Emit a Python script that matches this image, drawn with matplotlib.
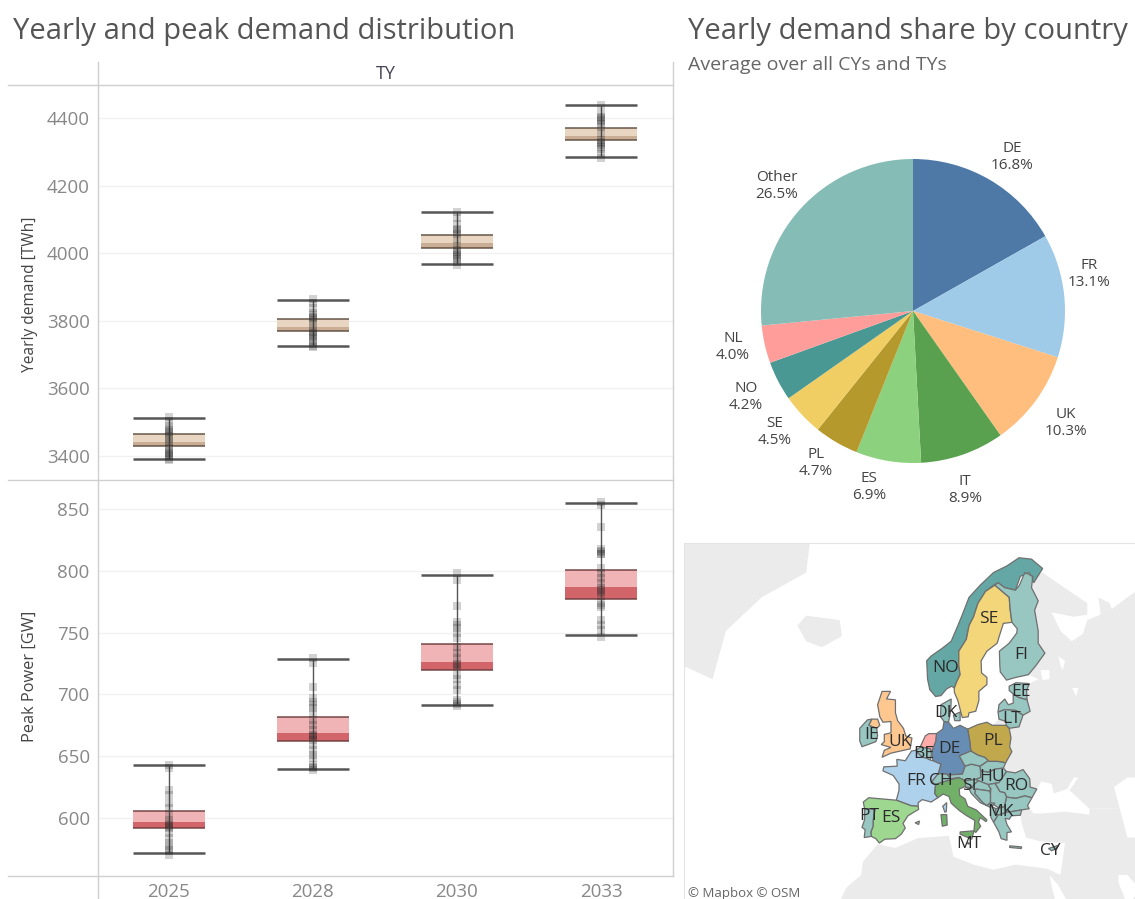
# yearly and peak demand dashboard

import numpy as np
import matplotlib
matplotlib.use('Agg')
import matplotlib.pyplot as plt
from matplotlib.lines import Line2D
from matplotlib.patches import Polygon

W = 1135
H = 899

plt.rcParams['font.family'] = ['Open Sans', 'DejaVu Sans']

years = ['2025', '2028', '2030', '2033']

# whisker low, q1, median, q3, whisker high
yearly_low = [3390, 3725, 3968, 4285]
yearly_q1 = [3430, 3770, 4015, 4335]
yearly_med = [3440, 3782, 4030, 4347]
yearly_q3 = [3465, 3805, 4054, 4370]
yearly_high = [3512, 3863, 4122, 4438]

yearly_points = [
    [3516, 3503, 3490, 3480, 3476, 3472, 3466, 3460, 3450, 3442, 3436, 3425, 3416, 3412, 3408, 3403, 3400, 3392, 3388],
    [3866, 3852, 3837, 3822, 3816, 3812, 3808, 3802, 3792, 3778, 3768, 3764, 3758, 3754, 3748, 3740, 3733, 3727, 3722],
    [4123, 4103, 4088, 4073, 4068, 4063, 4058, 4043, 4023, 4009, 4004, 3999, 3995, 3990, 3984, 3975, 3965],
    [4439, 4414, 4404, 4400, 4395, 4390, 4382, 4375, 4355, 4335, 4330, 4325, 4320, 4315, 4310, 4295, 4283],
]

peak_low = [572, 640, 691, 748]
peak_q1 = [592, 662, 720, 777]
peak_med = [597, 669, 726, 787]
peak_q3 = [606, 682, 741, 801]
peak_high = [643, 729, 797, 855]

peak_points = [
    [642.8, 640.2, 622.7, 618.7, 612, 607.9, 602.5, 598.5, 596, 594.4, 593, 591.7, 587.7, 583.6, 579.6, 576.9, 574.2, 573, 570.2],
    [729.2, 725.2, 706.2, 696.8, 694, 691.4, 688.7, 685.2, 679.3, 675.2, 671.2, 667.2, 666, 665.3, 663, 659.1, 655, 651, 648.3, 642.9, 641.5, 640.5, 638.8],
    [798, 792.6, 771.6, 758.9, 756.2, 753.5, 749.5, 745.5, 738.7, 733.3, 729.2, 724.7, 723.5, 722.5, 715.8, 712.3, 707.7, 703.6, 695.5, 693.7, 692, 690.7],
    [855.9, 853.2, 835.7, 817.4, 816, 815.5, 814, 813.6, 802, 798, 793.9, 789.9, 785.9, 784.5, 783.2, 779.7, 773.7, 772, 771, 760.3, 756.2, 752.1, 746.7],
]

pie_names = ['DE', 'FR', 'UK', 'IT', 'ES', 'PL', 'SE', 'NO', 'NL', 'Other']
pie_shares = [16.8, 13.1, 10.3, 8.9, 6.9, 4.7, 4.5, 4.2, 4.0, 26.5]
pie_colors = ['#4e79a7', '#a0cbe8', '#ffbe7d', '#59a14f', '#8cd17d',
              '#b6992d', '#f1ce63', '#499894', '#ff9d9a', '#86bcb6']

# rough country outlines as lon, lat
norway = [(5, 62), (5.2, 60), (5.7, 58.8), (7, 58), (8.2, 58.1), (9.5, 58.9), (10.6, 59.2), (11.2, 59), (11.8, 59.8),
          (12.5, 60.5), (12.2, 61.5), (12.2, 63), (13.9, 64.2), (14.5, 65.5), (15.5, 66.3), (16.5, 67.5), (18.2, 68.5),
          (20, 69), (21, 69.2), (22.5, 68.8), (24.9, 68.6), (26, 69.7), (28, 70), (29, 69.2), (31, 70.3), (28.5, 71),
          (25.7, 71.1), (23, 70.5), (20, 70), (17, 69), (14.5, 68), (13, 66.5), (12, 65.5), (10.5, 64), (8.5, 63.3), (6, 62.5)]
sweden = [(11.2, 59), (11.2, 58.5), (12, 57.5), (12.7, 56), (13, 55.4), (14.3, 55.5), (14.5, 56), (16, 56.2), (16.7, 57.5),
          (16.7, 58.6), (18.5, 59.4), (18.5, 60.2), (17.3, 60.7), (17.2, 62), (18.5, 63), (20.8, 63.8), (21.5, 64.8),
          (22.2, 65.7), (24.1, 65.8), (23.7, 67), (23.5, 68), (20.3, 69), (18.2, 68.5), (16.5, 67.5), (15.5, 66.3),
          (14.5, 65.5), (13.9, 64.2), (12.2, 63), (12.2, 61.5), (12.5, 60.5), (11.8, 59.8)]
finland = [(24.1, 65.8), (25.3, 65.2), (25.2, 64.8), (23.5, 63.8), (21.3, 63), (21.4, 61.5), (21.5, 60.8), (22.9, 59.9),
           (25, 60.2), (27.8, 60.5), (29.5, 61.5), (31.5, 62.8), (30, 63.8), (30, 65), (29.2, 66.9), (30, 67.7), (28.5, 68.8),
           (28.8, 69.7), (27, 70), (25.8, 69), (24.9, 68.6), (22.5, 68.8), (21, 69.2), (20.3, 69), (23.5, 68), (23.7, 67)]
estonia = [(23.5, 59.2), (25, 59.6), (28, 59.5), (27.4, 58.7), (27.5, 57.6), (25.5, 57.9), (24.4, 58.3), (23.5, 58.7)]
latvia = [(21, 56.1), (21.2, 57), (22.5, 57.7), (23.3, 57), (24.4, 57.2), (24.4, 58.3), (25.5, 57.9), (27.5, 57.6),
          (28.2, 56.2), (26.6, 55.7), (25, 56.3), (22.5, 56.4)]
lithuania = [(21, 56.1), (22.5, 56.4), (25, 56.3), (26.6, 55.7), (25.7, 54.2), (23.5, 54), (22.8, 54.4), (22.8, 54.9), (21.2, 55.2)]
poland = [(14.2, 53.9), (16.5, 54.5), (18.5, 54.8), (19.7, 54.4), (22.8, 54.4), (23.5, 54), (23.9, 52.7), (23.6, 51.5),
          (24.1, 50.8), (22.7, 49.2), (20.9, 49.4), (19, 49.4), (18, 50), (16.5, 50.3), (14.9, 50.9), (14.7, 52.1)]
germany = [(8.6, 53.9), (8.9, 54.9), (9.9, 54.8), (11, 54), (12.5, 54.4), (14.2, 53.9), (14.7, 52.1), (14.9, 50.9),
           (12.3, 50.2), (13.6, 48.7), (13, 47.5), (10.2, 47.4), (7.6, 47.6), (8.2, 49), (6.4, 49.5), (6.1, 50.8), (7, 52.2), (7.2, 53.3)]
netherlands = [(3.5, 51.4), (4.7, 53), (5.5, 53.3), (7.2, 53.3), (7, 52.2), (6.1, 50.8), (5.8, 51.2), (4.3, 51.4)]
belgium = [(2.6, 51), (3.5, 51.4), (4.3, 51.4), (5.8, 51.2), (6.1, 50.5), (5.8, 49.6), (4.9, 49.9), (4, 50), (2.9, 50.7)]
france = [(1.6, 50.9), (2.6, 51), (2.9, 50.7), (4, 50), (4.9, 49.9), (5.8, 49.6), (6.4, 49.5), (8.2, 49), (7.6, 47.6),
          (6.1, 46.3), (7, 45.9), (6.8, 44.5), (7.5, 43.8), (6, 43.1), (4, 43.5), (3.1, 43), (3.1, 42.4), (1.5, 42.5),
          (-1.8, 43.4), (-1.2, 45), (-1.2, 46), (-2.5, 47.3), (-4.8, 48), (-4.6, 48.6), (-1.6, 48.7), (-1.7, 49.7), (0.2, 49.5)]
corsica = [(8.6, 42.4), (9.5, 43), (9.4, 41.5), (9.1, 41.4)]
spain = [(-9.2, 43.1), (-8, 43.8), (-1.8, 43.4), (1.5, 42.5), (3.1, 42.4), (3.2, 41.9), (0.8, 40.8), (-0.3, 39.5), (0.2, 38.7),
         (-0.7, 37.6), (-2, 36.8), (-4.4, 36.7), (-5.6, 36), (-6.4, 36.8), (-7.4, 37.2), (-7.5, 38), (-7, 39), (-7, 40),
         (-6.8, 41), (-6.6, 41.9), (-8.2, 42), (-8.9, 41.9)]
mallorca = [(2.4, 39.6), (3.4, 39.9), (3.2, 39.3)]
portugal = [(-8.9, 41.9), (-8.2, 42), (-6.6, 41.9), (-6.8, 41), (-7, 40), (-7, 39), (-7.5, 38), (-7.4, 37.2), (-9, 37),
            (-8.8, 38.4), (-9.5, 38.8), (-8.9, 40.2)]
britain = [(-5, 50), (-3, 50.6), (1.3, 51.2), (1.7, 52.7), (0.3, 53), (-0.2, 54), (-1.5, 55), (-2, 56), (-2, 57.6), (-4, 57.7),
           (-3.1, 58.6), (-5, 58.6), (-6, 57), (-5.5, 55.5), (-4.8, 54.8), (-3, 54.9), (-3, 53.4), (-4.5, 53.2), (-4.5, 52.2),
           (-5.2, 51.8), (-3, 51.4), (-4.5, 51)]
n_ireland = [(-8, 54.4), (-7.3, 55.2), (-6, 55.2), (-5.5, 54.4), (-6.2, 54)]
ireland = [(-10, 54), (-8.3, 55.1), (-7.3, 55.2), (-8, 54.4), (-6.2, 54), (-6, 53), (-6.4, 52.2), (-9.5, 51.5), (-10, 52.3)]
denmark = [(8.1, 55.5), (8.2, 57), (10.5, 57.7), (10.4, 56.3), (9.9, 54.8), (8.9, 54.9)]
zealand = [(11, 55.7), (12.5, 56.1), (12.5, 55), (11.3, 55)]
italy = [(7, 45.9), (8.5, 46.3), (10.2, 46.6), (12.2, 47), (13.7, 46.5), (13.7, 45.6), (12.3, 45.2), (12.4, 44.2), (13.6, 43.6),
         (14.2, 42.4), (16.1, 41.8), (18.5, 40.1), (18.3, 39.8), (17, 40.5), (16.6, 39.7), (17.1, 39), (16, 37.9), (15.6, 38.2),
         (15.8, 40), (14, 40.8), (12.3, 41.7), (10.5, 42.9), (10, 44), (8.7, 44.4), (7.5, 43.8), (6.8, 44.5)]
sicily = [(12.5, 38), (15.6, 38.2), (15.1, 36.7), (12.5, 37.6)]
sardinia = [(8.2, 41), (9.5, 41), (9.6, 39.2), (8.5, 39)]
swiss = [(6.1, 46.3), (7.6, 47.6), (9.6, 47.5), (10.4, 46.8), (10.2, 46.6), (8.5, 46.3), (7, 45.9)]
austria = [(9.6, 47.5), (10.2, 47.4), (13, 47.5), (13.6, 48.7), (15, 49), (17, 48.7), (17.1, 47), (16, 46.7), (13.7, 46.5),
           (12.2, 47), (10.4, 46.8)]
czech = [(12.3, 50.2), (14.9, 50.9), (16.5, 50.3), (18, 50), (18.8, 49.5), (17, 48.7), (15, 49), (13.6, 48.7)]
slovakia = [(17, 48.7), (18.8, 49.5), (19, 49.4), (20.9, 49.4), (22.7, 49.2), (22.2, 48.4), (20.5, 48.3), (18.8, 47.8), (17.1, 48)]
hungary = [(17.1, 48), (18.8, 47.8), (20.5, 48.3), (22.2, 48.4), (22.9, 47.9), (21.2, 46.2), (18.8, 45.9), (16.6, 46.5), (16, 46.7), (17.1, 47)]
romania = [(22.9, 47.9), (24.9, 47.7), (26.6, 48.2), (28.1, 46.8), (28.2, 45.5), (29.7, 45.2), (28.6, 43.8), (27, 44.1), (25, 43.7),
           (22.9, 43.9), (22.5, 44.6), (21.4, 44.8), (20.3, 46.1), (21.2, 46.2)]
bulgaria = [(22.9, 43.9), (25, 43.7), (27, 44.1), (28.6, 43.8), (27.6, 42.5), (28, 42), (26.3, 41.8), (24, 41.5), (22.9, 41.4), (22.4, 42.3)]
slovenia = [(13.7, 46.5), (16, 46.7), (16.6, 46.5), (15.6, 45.9), (15.2, 45.4), (13.7, 45.5)]
croatia = [(13.7, 45.5), (15.2, 45.4), (15.6, 45.9), (16.6, 46.5), (18.8, 45.9), (19.4, 45.2), (19, 44.9), (16, 45.2), (15.8, 44.5),
           (17.6, 43), (18.5, 42.5), (17, 43), (15, 44.5), (14.5, 45.2)]
serbia = [(18.8, 45.9), (20.3, 46.1), (21.4, 44.8), (22.5, 44.6), (22.9, 43.9), (22.4, 42.3), (21, 42.2), (19.3, 43), (19.3, 44.5), (19.4, 45.2)]
bosnia = [(16, 45.2), (19, 44.9), (19.3, 44.5), (19.3, 43), (18.5, 42.5), (17.6, 43), (15.8, 44.5)]
montenegro = [(18.5, 42.5), (19.3, 43), (20.3, 42.9), (19.3, 42.2)]
albania = [(19.3, 42.5), (20.5, 42), (20.5, 41.3), (21, 40.9), (20, 39.7), (19.4, 40.5)]
macedonia = [(20.5, 42), (22.4, 42.3), (22.9, 41.4), (21, 40.9), (20.5, 41.3)]
greece = [(21, 40.9), (22.9, 41.4), (24, 41.5), (26.3, 41.8), (26, 40.9), (24, 40.8), (23.5, 40.2), (22.6, 40.4), (23, 39.3), (24, 38),
          (23, 37.9), (23, 36.5), (21.7, 36.8), (21.2, 38), (20, 39.7)]
crete = [(23.6, 35.5), (26.3, 35.3), (26.2, 35), (23.6, 35.2)]
cyprus = [(32.3, 35), (34.5, 35.6), (33.9, 34.9), (33, 34.6)]
malta = [(14.2, 36.1), (14.6, 35.95), (14.5, 35.8), (14.2, 35.9)]

country_shapes = [norway, sweden, finland, estonia, latvia, lithuania, poland, germany, netherlands, belgium, france, corsica,
                  spain, mallorca, portugal, britain, n_ireland, ireland, denmark, zealand, italy, sicily, sardinia, swiss, austria,
                  czech, slovakia, hungary, romania, bulgaria, slovenia, croatia, serbia, bosnia, montenegro, albania,
                  macedonia, greece, crete, cyprus, malta]
country_groups = ['NO', 'SE', 'Other', 'Other', 'Other', 'Other', 'PL', 'DE', 'NL', 'Other', 'FR', 'FR',
                  'ES', 'ES', 'Other', 'UK', 'UK', 'Other', 'Other', 'Other', 'IT', 'IT', 'IT', 'Other', 'Other',
                  'Other', 'Other', 'Other', 'Other', 'Other', 'Other', 'Other', 'Other', 'Other', 'Other', 'Other',
                  'Other', 'Other', 'Other', 'Other', 'Other']

# land that is not part of the data, grey base map
greenland = [(-52, 62), (-43, 60), (-40, 65), (-32, 68), (-22, 70), (-20, 75), (-52, 75)]
iceland = [(-24, 65.5), (-22, 64), (-18.5, 63.4), (-14, 64.5), (-14.5, 66), (-18, 66.2), (-22, 66.4)]
russia = [(28.8, 69.7), (31, 70), (33, 69.5), (41, 67.5), (41, 66.5), (38, 66.3), (33, 66.7), (35, 65), (37.5, 64), (40, 64.7), (41, 66),
          (44, 66.5), (43.5, 68), (46, 67.5), (46.5, 67), (53, 68.8), (53, 42), (48, 42), (41.5, 42), (37, 45), (39, 47), (38, 47), (36.5, 45.2),
          (33.5, 44.5), (33, 46), (30.7, 46.4), (29.7, 45.2), (28.2, 45.5), (28.1, 46.8), (26.6, 48.2), (24.9, 47.7), (22.9, 47.9), (22.2, 48.4),
          (22.7, 49.2), (24.1, 50.8), (23.6, 51.5), (23.9, 52.7), (23.5, 54), (22.8, 54.4), (19.7, 54.4), (21.2, 55.2), (22.8, 54.9), (25.7, 54.2),
          (26.6, 55.7), (28.2, 56.2), (27.5, 57.6), (27.4, 58.7), (28, 59.5),
          (30, 60), (27.8, 60.5), (29.5, 61.5), (31.5, 62.8), (30, 63.8), (30, 65), (29.2, 66.9), (30, 67.7), (28.5, 68.8)]
turkey = [(26.3, 41.8), (28, 42), (29, 41.2), (31, 41.2), (36, 41.5), (41.5, 41), (41.5, 42), (53, 42), (53, 30), (35, 30), (36, 36),
          (30.5, 36.3), (27.3, 37), (26.3, 39.5), (26, 40.9)]
africa = [(-13, 27.5), (-9.7, 30), (-9.3, 32.5), (-6, 35.8), (-2, 35.1), (3, 36.9), (10, 37.3), (11, 33.5), (15.5, 32), (20, 31),
          (25, 32), (32, 31.2), (35, 30), (53, 30), (53, 20), (-17, 20)]
base_land = [greenland, iceland, russia, turkey, africa]

# inland water cut back out of the grey
caspian = [(47, 45.5), (50, 47), (53, 47), (53, 37), (50, 37), (49, 40)]
ladoga = [(30.5, 61), (32.5, 61), (32.5, 60), (31, 59.9)]
onega = [(34.5, 62.5), (36, 62), (35.5, 61), (35, 61.5)]
rybinsk = [(37.6, 59), (39, 59), (38.5, 58)]
persian_gulf = [(48, 30), (50, 30), (53, 27), (50, 24), (48, 28.5)]
red_sea = [(32.5, 30), (34.5, 28), (37, 24), (34, 24)]
water = [caspian, ladoga, onega, rybinsk, persian_gulf, red_sea]

map_labels = ['SE', 'FI', 'NO', 'EE', 'DK', 'LT', 'IE', 'UK', 'BE', 'DE', 'PL', 'FR', 'CH', 'SI', 'HU', 'RO', 'MK', 'PT', 'ES', 'MT', 'CY']
map_label_x = [989, 1021, 946, 1021, 946, 1012, 872, 900, 924, 949, 993, 916, 941, 969, 992, 1016, 1001, 869, 891, 969, 1050]
map_label_y = [619, 655, 668, 692, 713, 719, 735, 742, 754, 749, 741, 781, 781, 786, 777, 786, 812, 816, 818, 844, 851]

pie_label_x = [1012, 1089, 1066, 965, 869, 816, 775, 746, 733, 777]
pie_label_y = [157, 274, 423, 490, 487, 463, 432, 397, 347, 186]


def box(x0, y0, x1, y1):
    # pixel box of the reference to figure coords
    return [x0 / W, 1 - y1 / H, (x1 - x0) / W, (y1 - y0) / H]


def fig_line(fig, x0, y0, x1, y1, color='#cfcfcf', lw=1.0):
    fig.add_artist(Line2D([x0 / W, x1 / W], [1 - y0 / H, 1 - y1 / H], color=color, lw=lw))


def fig_text(fig, x, y, s, **kw):
    fig.text(x / W, 1 - y / H, s, **kw)


def merc(lat):
    return np.log(np.tan(np.pi / 4 + np.radians(np.asarray(lat, dtype=float)) / 2))


def project(shape):
    pts = np.array(shape, dtype=float)
    return np.column_stack([pts[:, 0], np.degrees(merc(pts[:, 1]))])


def draw_boxes(ax, low, q1, med, q3, high, points, light, dark, line_col, line_a):
    pos = np.arange(len(low))
    ax.bar(pos, np.array(q3) - np.array(med), 0.5, bottom=med, color=light, zorder=2)
    ax.bar(pos, np.array(med) - np.array(q1), 0.5, bottom=q1, color=dark, zorder=2)
    ax.hlines(q1, pos - 0.25, pos + 0.25, color=line_col, lw=1.2, alpha=line_a, zorder=3)
    ax.hlines(q3, pos - 0.25, pos + 0.25, color=line_col, lw=1.2, alpha=line_a, zorder=3)
    ax.hlines(low, pos - 0.25, pos + 0.25, color='#444444', lw=1.8, alpha=0.9, zorder=3)
    ax.hlines(high, pos - 0.25, pos + 0.25, color='#444444', lw=1.8, alpha=0.9, zorder=3)
    ax.vlines(pos, low, high, color='#555555', lw=1.0, zorder=3)
    for i in pos:
        ax.scatter([i] * len(points[i]), points[i], s=30, marker='s', color='#222222',
                   alpha=0.2, linewidths=0, zorder=4)


def style_panel(ax, ticks, ylim):
    ax.set_xlim(-0.49, 3.5)
    ax.set_ylim(*ylim)
    ax.set_yticks(ticks)
    ax.grid(axis='y', color='#f1f1f1', lw=1.0)
    ax.set_axisbelow(True)
    for s in ax.spines.values():
        s.set_visible(False)
    ax.tick_params(axis='y', length=0, labelsize=13.5, labelcolor='#888888', pad=6)
    ax.tick_params(axis='x', length=0)
    ax.set_facecolor('none')


def main():
    fig = plt.figure(figsize=(W / 100, H / 100), dpi=100)

    # base map first
    mx = fig.add_axes(box(684, 543, 1135, 899))
    mx.set_xlim(-49.4, 51.7)
    mx.set_ylim(np.degrees(0.455), np.degrees(1.851))
    mx.set_xticks([])
    mx.set_yticks([])
    for s in mx.spines.values():
        s.set_visible(False)
    for s in ['top', 'left']:
        mx.spines[s].set_visible(True)
        mx.spines[s].set_color('#e4e4e4')
    for shape in base_land:
        mx.add_patch(Polygon(project(shape), closed=True, facecolor='#ebebeb', edgecolor='none'))
    for shape in water:
        mx.add_patch(Polygon(project(shape), closed=True, facecolor='white', edgecolor='none'))
    lookup = dict(zip(pie_names, pie_colors))
    for shape, group in zip(country_shapes, country_groups):
        rgba = matplotlib.colors.to_rgba(lookup[group], 0.85)
        mx.add_patch(Polygon(project(shape), closed=True, facecolor=rgba, edgecolor='#6f6f6f', lw=0.9))
    mx.text(-48.6, np.degrees(0.478), '\u00a9 Mapbox \u00a9 OSM', fontsize=9.5, color='#666666', ha='left', va='center')

    # demand panels
    top = fig.add_axes(box(98, 85, 673, 480))
    draw_boxes(top, yearly_low, yearly_q1, yearly_med, yearly_q3, yearly_high, yearly_points,
               '#e8d6c3', '#c9ad95', '#5c4a3c', 0.85)
    style_panel(top, [3400, 3600, 3800, 4000, 4200, 4400], (3329, 4498))
    top.set_xticks([])

    bottom = fig.add_axes(box(98, 480, 673, 876))
    draw_boxes(bottom, peak_low, peak_q1, peak_med, peak_q3, peak_high, peak_points,
               '#f0b4b6', '#d2656a', '#6b3b3c', 0.85)
    style_panel(bottom, [600, 650, 700, 750, 800, 850], (553, 873.5))
    bottom.set_xticks(range(len(years)))
    bottom.set_xticklabels(years, fontsize=13.5, color='#888888')
    bottom.tick_params(axis='x', pad=5)

    # table style frame lines
    fig_line(fig, 8, 85, 673, 85)
    fig_line(fig, 8, 480, 673, 480)
    fig_line(fig, 8, 876, 673, 876)
    fig_line(fig, 98, 62, 98, 899)
    fig_line(fig, 673, 62, 673, 876)

    fig_text(fig, 30, 294, 'Yearly demand [TWh]', fontsize=11.2, color='#444444', rotation=90, ha='center', va='center')
    fig_text(fig, 30, 676, 'Peak Power [GW]', fontsize=11.8, color='#444444', rotation=90, ha='center', va='center')
    fig_text(fig, 386, 74, 'TY', fontsize=13, color='#444455', ha='center', va='center')

    fig_text(fig, 13, 31, 'Yearly and peak demand distribution', fontsize=21, color='#555555', ha='left', va='center')
    fig_text(fig, 688, 31, 'Yearly demand share by country', fontsize=21, color='#555555', ha='left', va='center')
    fig_text(fig, 688, 65, 'Average over all CYs and TYs', fontsize=14, color='#666666', ha='left', va='center')

    # map labels go on the figure so they sit above the other axes
    for name, x, y in zip(map_labels, map_label_x, map_label_y):
        fig_text(fig, x, y, name, fontsize=12.5, color='#2b2b2b', ha='center', va='center')

    # pie
    px = fig.add_axes(box(761, 159, 1065, 463))
    labels = ['%s\n%.1f%%' % (n, v) for n, v in zip(pie_names, pie_shares)]
    _, texts = px.pie(pie_shares, labels=labels, colors=pie_colors, startangle=90, counterclock=False,
                      radius=1, textprops={'fontsize': 11, 'color': '#444444'})
    for t, x, y in zip(texts, pie_label_x, pie_label_y):
        t.set_position(((x - 913) / 152, (311 - y) / 152))
        t.set_ha('center')
        t.set_va('center')
        t.set_clip_on(False)
    px.set_xlim(-1, 1)
    px.set_ylim(-1, 1)

    fig.savefig('out.png', dpi=100)


if __name__ == '__main__':
    main()
